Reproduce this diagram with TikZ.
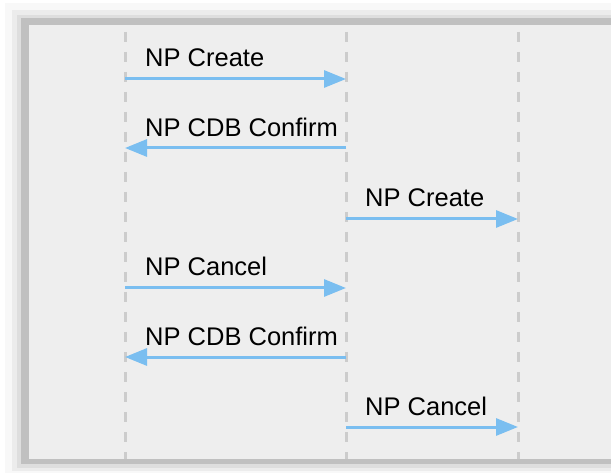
\documentclass[tikz,border=0pt]{standalone}
\usepackage{fontspec}
\setmainfont{Liberation Sans}
\usetikzlibrary{arrows.meta}
\definecolor{msgblue}{RGB}{122,190,240}
\definecolor{lifegray}{RGB}{204,204,204}
\definecolor{panelfill}{RGB}{238,238,238}
\definecolor{shadeA}{RGB}{248,248,248}
\definecolor{shadeB}{RGB}{236,236,236}
\definecolor{shadeC}{RGB}{222,222,222}
\definecolor{shadeD}{RGB}{192,192,192}
\tikzset{
  lifeline/.style={draw=lifegray, line width=3pt, dash pattern=on 10pt off 10pt, dash phase=13pt},
  msg/.style={draw=msgblue, line width=3pt, -{Triangle[length=22pt,width=17pt]}},
  msglabel/.style={anchor=base west, inner sep=0pt, font=\fontsize{25.5}{28}\selectfont, text=black},
}
\begin{document}
\begin{tikzpicture}[x=1pt,y=-1pt]
\useasboundingbox (0,0) rectangle (611,473);
\fill[white] (0,0) rectangle (611,473);
% soft frame shadow
\fill[shadeA] (5,3) rectangle (611,473);
\fill[shadeB] (12,10) rectangle (611,471);
\fill[shadeC] (17,15) rectangle (611,468);
\fill[shadeD] (21,18) rectangle (611,464);
\fill[panelfill] (29,25) rectangle (611,459);
% lifelines
\coordinate (A0) at (125,25); \coordinate (A1) at (125,459);
\coordinate (B0) at (346,25); \coordinate (B1) at (346,459);
\coordinate (C0) at (518,25); \coordinate (C1) at (518,459);
\draw[lifeline] (A0) -- (A1);
\draw[lifeline] (B0) -- (B1);
\draw[lifeline] (C0) -- (C1);
% message endpoints
\coordinate (m1a) at (125,79);  \coordinate (m1b) at (346,79);
\coordinate (m2a) at (346,148); \coordinate (m2b) at (125,148);
\coordinate (m3a) at (346,219); \coordinate (m3b) at (518,219);
\coordinate (m4a) at (125,288); \coordinate (m4b) at (346,288);
\coordinate (m5a) at (346,357); \coordinate (m5b) at (125,357);
\coordinate (m6a) at (346,427); \coordinate (m6b) at (518,427);
\draw[msg] (m1a) -- (m1b);
\draw[msg] (m2a) -- (m2b);
\draw[msg] (m3a) -- (m3b);
\draw[msg] (m4a) -- (m4b);
\draw[msg] (m5a) -- (m5b);
\draw[msg] (m6a) -- (m6b);
% labels
\node[msglabel] (l1) at (145,67)  {NP Create};
\node[msglabel] (l2) at (145,137) {NP CDB Confirm};
\node[msglabel] (l3) at (365,207) {NP Create};
\node[msglabel] (l4) at (145,276) {NP Cancel};
\node[msglabel] (l5) at (145,345) {NP CDB Confirm};
\node[msglabel] (l6) at (365,415) {NP Cancel};
\end{tikzpicture}
\end{document}
